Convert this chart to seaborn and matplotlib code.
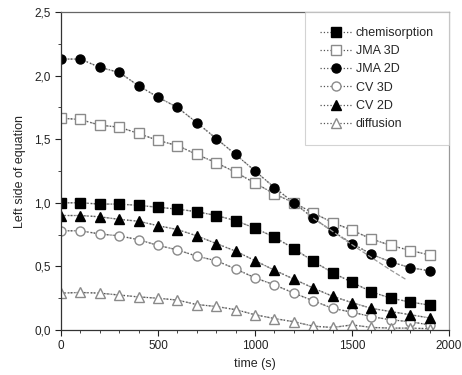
import numpy as np
import pandas as pd
import matplotlib
matplotlib.use("Agg")
import matplotlib.pyplot as plt
import seaborn as sns
from matplotlib.ticker import MultipleLocator, FuncFormatter

# Data (time step 100 s)
time = list(range(0, 2000, 100))
chemisorption = [1.0, 1.0, 0.99, 0.99, 0.98, 0.965, 0.95, 0.93, 0.90, 0.86,
                 0.80, 0.73, 0.64, 0.54, 0.45, 0.375, 0.30, 0.25, 0.22, 0.195]
jma_3d = [1.665, 1.655, 1.61, 1.595, 1.545, 1.49, 1.45, 1.38, 1.315, 1.24,
          1.155, 1.07, 1.0, 0.92, 0.845, 0.785, 0.715, 0.665, 0.625, 0.59]
jma_2d = [2.13, 2.13, 2.065, 2.025, 1.92, 1.83, 1.75, 1.63, 1.505, 1.38,
          1.25, 1.12, 1.0, 0.88, 0.775, 0.68, 0.595, 0.535, 0.49, 0.465]
cv_3d = [0.78, 0.78, 0.755, 0.74, 0.71, 0.665, 0.63, 0.58, 0.545, 0.48,
         0.41, 0.355, 0.29, 0.23, 0.17, 0.14, 0.105, 0.08, 0.065, 0.04]
cv_2d = [0.90, 0.90, 0.89, 0.87, 0.855, 0.82, 0.79, 0.74, 0.68, 0.62,
         0.545, 0.47, 0.40, 0.33, 0.265, 0.215, 0.17, 0.145, 0.12, 0.095]
diffusion = [0.29, 0.295, 0.29, 0.275, 0.26, 0.25, 0.235, 0.2, 0.185, 0.16,
             0.12, 0.09, 0.065, 0.03, 0.02, 0.04, 0.02, 0.015, 0.015, 0.01]

# fitted line for JMA 2D that runs below the data at the end
fit_time = [1300, 1400, 1500, 1600, 1700, 1775]
jma_2d_fit = [0.88, 0.775, 0.67, 0.57, 0.47, 0.40]

series = [
    ("chemisorption", chemisorption, "s", "black", "black"),
    ("JMA 3D", jma_3d, "s", "white", "#8a8a8a"),
    ("JMA 2D", jma_2d, "o", "black", "black"),
    ("CV 3D", cv_3d, "o", "white", "#8a8a8a"),
    ("CV 2D", cv_2d, "^", "black", "black"),
    ("diffusion", diffusion, "^", "white", "#8a8a8a"),
]

sns.set_style("ticks")
plt.rcParams['font.family'] = ['Liberation Sans', 'DejaVu Sans']

fig = plt.figure(figsize=(4.62, 3.75), dpi=100)
ax = fig.add_axes([0.132, 0.12, 0.840, 0.848])

for name, vals, mk, fc, ec in series:
    df = pd.DataFrame({"time": time, "value": vals})
    # thin grey "fit" line under the data
    sns.lineplot(data=df, x="time", y="value", ax=ax, color="#b0b0b0",
                 linewidth=1.0, linestyle="--", legend=False)
    sns.lineplot(data=df, x="time", y="value", ax=ax, label=name,
                 color="#555555", linewidth=0.9, linestyle=":",
                 marker=mk, markersize=6.5, markerfacecolor=fc,
                 markeredgecolor=ec, markeredgewidth=1.0)

sns.lineplot(x=fit_time, y=jma_2d_fit, ax=ax, color="#999999",
             linewidth=0.9, linestyle="--", legend=False)

ax.set_xlim(0, 2000)
ax.set_ylim(0, 2.5)
ax.xaxis.set_major_locator(MultipleLocator(500))
ax.xaxis.set_minor_locator(MultipleLocator(100))
ax.yaxis.set_major_locator(MultipleLocator(0.5))
ax.yaxis.set_minor_locator(MultipleLocator(0.25))
ax.yaxis.set_major_formatter(FuncFormatter(lambda v, p: f"{v:.1f}".replace(".", ",")))
ax.tick_params(which="major", length=4, width=0.8, labelsize=8.5, colors="#222222")
ax.tick_params(which="minor", length=2, width=0.6)
for s in ax.spines.values():
    s.set_linewidth(0.9)
    s.set_color("#333333")
ax.spines["right"].set_color("#999999")
ax.spines["top"].set_color("#666666")

ax.set_xlabel("time (s)", fontsize=9, labelpad=4)
ax.set_ylabel("Left side of equation", fontsize=9, labelpad=6)

leg = ax.legend(loc="upper right", fontsize=9, frameon=True, fancybox=False,
                edgecolor="#c8c8c8", handlelength=2.6, handletextpad=0.3,
                labelspacing=0.5, borderpad=1.2, borderaxespad=0.0)
leg.get_frame().set_linewidth(0.8)

fig.savefig("out.png", dpi=100)
